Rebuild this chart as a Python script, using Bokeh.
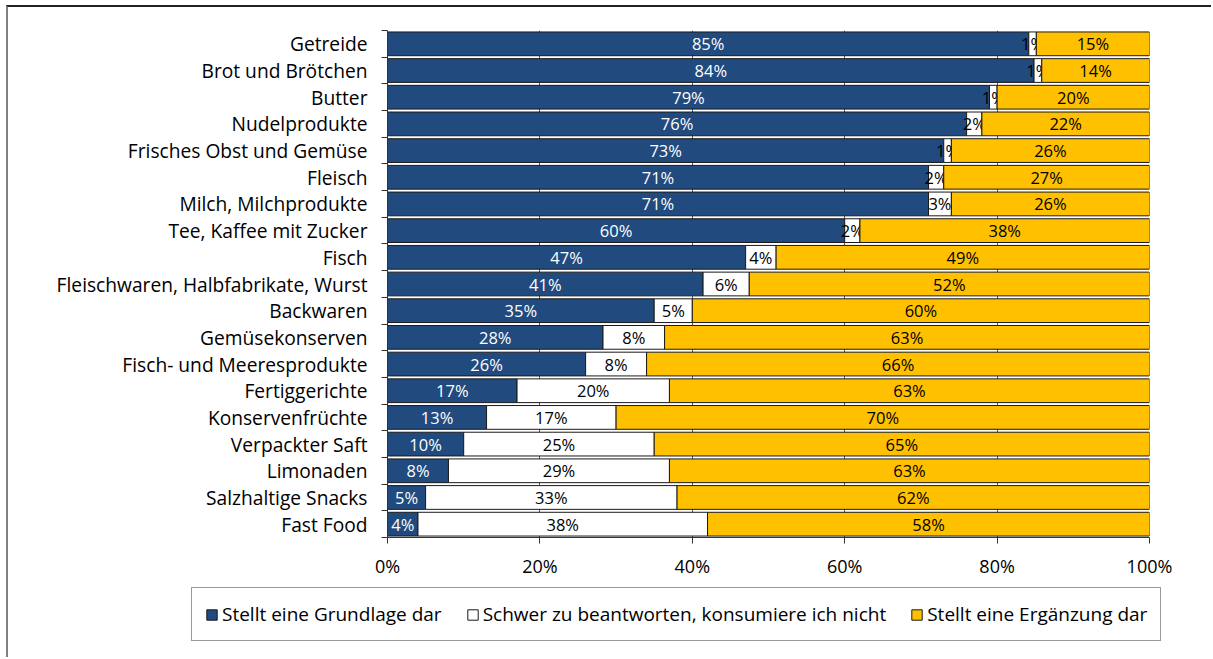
from bokeh.plotting import figure
from bokeh.models import ColumnDataSource, Range1d, FixedTicker, Legend, LegendItem
from bokeh.core.properties import value
from bokeh.embed import file_html
from bokeh.resources import INLINE

categories = [
    "Getreide", "Brot und Brötchen", "Butter", "Nudelprodukte",
    "Frisches Obst und Gemüse", "Fleisch", "Milch, Milchprodukte",
    "Tee, Kaffee mit Zucker", "Fisch", "Fleischwaren, Halbfabrikate, Wurst",
    "Backwaren", "Gemüsekonserven", "Fisch- und Meeresprodukte",
    "Fertiggerichte", "Konservenfrüchte", "Verpackter Saft", "Limonaden",
    "Salzhaltige Snacks", "Fast Food",
]
grundlage = [85, 84, 79, 76, 73, 71, 71, 60, 47, 41, 35, 28, 26, 17, 13, 10, 8, 5, 4]
schwer = [1, 1, 1, 2, 1, 2, 3, 2, 4, 6, 5, 8, 8, 20, 17, 25, 29, 33, 38]
ergaenzung = [15, 14, 20, 22, 26, 27, 26, 38, 49, 52, 60, 63, 66, 63, 70, 65, 63, 62, 58]

series_names = [
    "Stellt eine Grundlage dar",
    "Schwer zu beantworten, konsumiere ich nicht",
    "Stellt eine Ergänzung dar",
]
series_colors = ["#214A7E", "#FFFFFF", "#FFC000"]
label_colors = ["#FFFFFF", "#000000", "#000000"]
x_ticks = [0, 20, 40, 60, 80, 100]
x_tick_labels = ["0%", "20%", "40%", "60%", "80%", "100%"]

FONT = "Open Sans"
n = len(categories)
ys = [n - i - 0.5 for i in range(n)]
totals = [a + b + c for a, b, c in zip(grundlage, schwer, ergaenzung)]

p = figure(
    width=1205, height=581,
    x_range=Range1d(0, 100), y_range=Range1d(0, n),
    output_backend="svg", toolbar_location=None,
    min_border_left=379, min_border_right=64,
    min_border_top=23, min_border_bottom=51,
)
p.outline_line_color = None
p.styles = {
    "border-left": "2px solid #808080",
    "border-top": "2px solid #222222",
    "margin-left": "6px",
    "margin-top": "5px",
}

p.xgrid.ticker = FixedTicker(ticks=x_ticks)
p.xgrid.grid_line_color = "#595959"
p.ygrid.visible = False

# legend-only figure (its bars lie outside its visible y range)
p2 = figure(
    width=1205, height=71, x_range=Range1d(0, 100), y_range=Range1d(1000, 1001),
    output_backend="svg", toolbar_location=None,
    x_axis_location=None, y_axis_location=None,
    min_border=0,
)
p2.outline_line_color = None
p2.xgrid.visible = False
p2.ygrid.visible = False
p2.styles = {
    "border-left": "2px solid #808080",
    "margin-left": "6px",
}

renderers = []
cum = [0.0] * n
for vals, color, lcol in zip([grundlage, schwer, ergaenzung], series_colors, label_colors):
    left = [c for c in cum]
    right = [c + v / t * 100 for c, v, t in zip(cum, vals, totals)]
    cum = right
    src = ColumnDataSource(dict(
        y=ys, left=left, right=right,
        xc=[(l + r) / 2 for l, r in zip(left, right)],
        label=[f"{v}%" for v in vals],
    ))
    p.hbar(y="y", left="left", right="right", height=0.89, source=src,
           fill_color=color, line_color="#1a1a1a", line_width=1)
    r2 = p2.hbar(y="y", left="left", right="right", height=0.89, source=src,
                 fill_color=color, line_color="#1a1a1a", line_width=1)
    renderers.append(r2)
    p.text(x="xc", y="y", text="label", source=src, text_align="center",
           text_baseline="middle", text_font=value(FONT),
           text_font_size=value("16.5px"), text_color=lcol)

p.xaxis.ticker = FixedTicker(ticks=x_ticks)
p.xaxis.major_label_overrides = {t: l for t, l in zip(x_ticks, x_tick_labels)}
p.xaxis.major_label_text_font = FONT
p.xaxis.major_label_text_font_size = "18px"
p.xaxis.major_label_text_color = "#000000"
p.xaxis.major_tick_out = 6
p.xaxis.major_tick_in = 0
p.xaxis.minor_tick_line_color = None
p.xaxis.major_label_standoff = 10
p.xaxis.axis_line_color = "#333333"
p.xaxis.major_tick_line_color = "#333333"

p.yaxis.ticker = FixedTicker(ticks=ys, minor_ticks=[float(i) for i in range(n + 1)])
p.yaxis.major_label_overrides = {y: c for y, c in zip(ys, categories)}
p.yaxis.major_label_text_font = FONT
p.yaxis.major_label_text_font_size = "19.2px"
p.yaxis.major_label_text_color = "#000000"
p.yaxis.major_tick_line_color = None
p.yaxis.major_tick_out = 0
p.yaxis.major_tick_in = 0
p.yaxis.minor_tick_line_color = "#333333"
p.yaxis.minor_tick_out = 6
p.yaxis.minor_tick_in = 0
p.yaxis.major_label_standoff = 14
p.yaxis.axis_line_color = "#333333"

legend = Legend(
    items=[LegendItem(label=nm, renderers=[r]) for nm, r in zip(series_names, renderers)],
    orientation="horizontal", location=(183, 16),
    label_text_font=FONT, label_text_font_size="19px", label_text_color="#000000",
    glyph_width=13, glyph_height=13, label_standoff=4, spacing=24,
    padding=13, margin=0, border_line_color="#333333", border_line_width=1,
)
p2.add_layout(legend)

open("out.html", "w").write(file_html([p, p2], INLINE))
